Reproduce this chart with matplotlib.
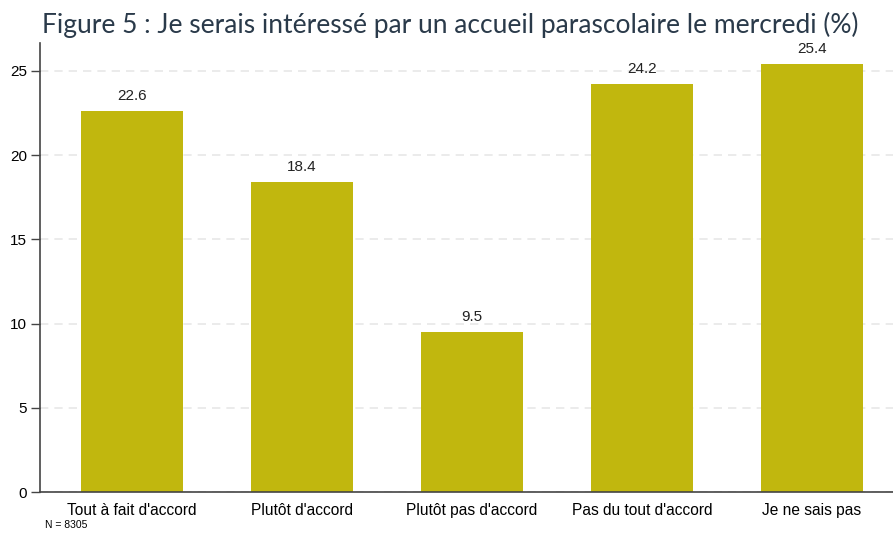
import matplotlib
matplotlib.use("Agg")
import matplotlib.pyplot as plt

categories = ["Tout à fait d'accord", "Plutôt d'accord", "Plutôt pas d'accord",
              "Pas du tout d'accord", "Je ne sais pas"]
values = [22.6, 18.4, 9.5, 24.2, 25.4]
yticks = [0, 5, 10, 15, 20, 25]

fig = plt.figure(figsize=(8.93, 5.33), dpi=100)
ax = fig.add_axes([40 / 893, 41 / 533, 853 / 893, 449 / 533])

x = range(len(categories))
bars = ax.bar(x, values, width=0.6, color="#c1b70e", zorder=2)
for b, v in zip(bars, values):
    ax.text(b.get_x() + b.get_width() / 2, v + 0.5, f"{v:.1f}",
            ha="center", va="bottom", fontsize=11, family="Liberation Sans", color="#222222")

ax.set_xlim(-0.541, 4.478)
ax.set_ylim(0, 26.66)
ax.set_yticks(yticks)
ax.set_xticks(list(x))
ax.set_xticklabels(categories, family="Liberation Sans", fontsize=11.2)
ax.tick_params(axis="x", length=0, pad=8)
ax.tick_params(axis="y", length=6.5, width=1, color="#444444", pad=3, labelsize=11)
for lab in ax.get_yticklabels():
    lab.set_family("Liberation Sans")
ax.grid(axis="y", color="#e8e8e8", linestyle=(0, (5, 3.6)), linewidth=1.2, zorder=0)
for s in ["top", "right"]:
    ax.spines[s].set_visible(False)
for s in ["left", "bottom"]:
    ax.spines[s].set_color("#444444")
    ax.spines[s].set_linewidth(1.2)

fig.text(42 / 893, 1 - 33 / 533, "Figure 5 : Je serais intéressé par un accueil parascolaire le mercredi (%)",
         family="Lato", fontsize=19, color="#2a3a4a", ha="left", va="baseline")
fig.text(45 / 893, 1 - 528 / 533, "N = 8305", family="Liberation Sans", fontsize=7.5,
         ha="left", va="baseline")

fig.savefig("out.png", dpi=100)
